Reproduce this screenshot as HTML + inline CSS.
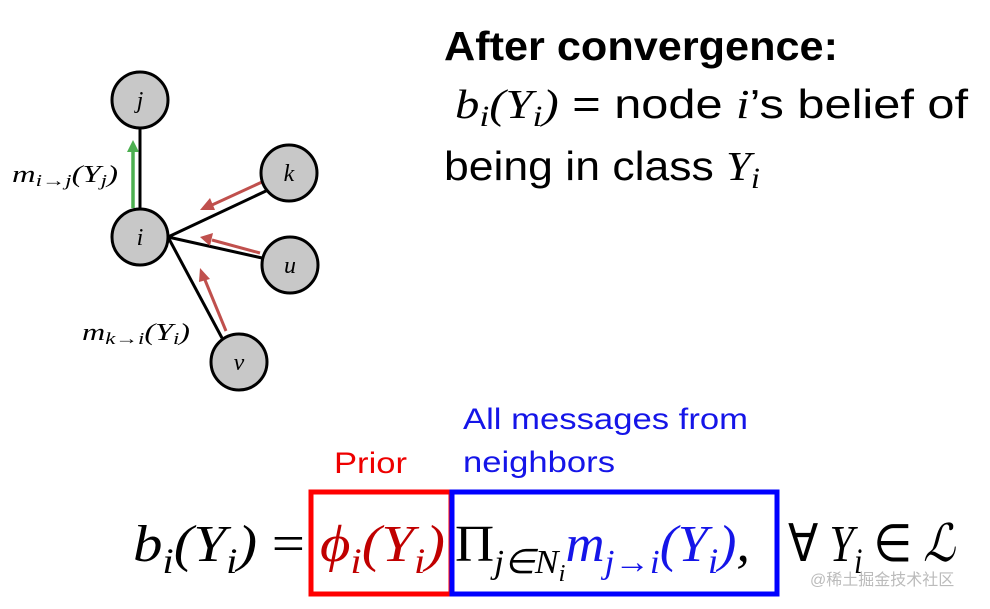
<!DOCTYPE html><html><head><style>body{margin:0;background:#fff}svg{display:block}</style></head><body>
<svg width="990" height="609" xmlns="http://www.w3.org/2000/svg">
<g stroke="#000" stroke-width="3">
<line x1="140" y1="128" x2="140" y2="210"/>
<line x1="168" y1="237" x2="268" y2="190"/>
<line x1="168" y1="237" x2="262" y2="258"/>
<line x1="168" y1="237" x2="222" y2="338"/>
</g>
<g stroke="#4caf50" stroke-width="3.5" fill="#4caf50"><line x1="133" y1="208" x2="133" y2="150"/><polygon points="127,152 139,152 133,140" stroke="none"/></g>
<g stroke="#c0504d" stroke-width="3" fill="#c0504d">
<line x1="262" y1="182" x2="212" y2="205"/><polygon points="200,210 210,198 215,210" stroke="none"/>
<line x1="260" y1="253" x2="212" y2="240"/><polygon points="200,237 213,233 210,246" stroke="none"/>
<line x1="226" y1="331" x2="205" y2="280"/><polygon points="200,268 210,279 199,282" stroke="none"/>
</g>
<g fill="#c8c8c8" stroke="#000" stroke-width="3">
<circle cx="140" cy="100" r="28"/><circle cx="140" cy="237" r="28"/><circle cx="289" cy="173" r="28"/><circle cx="290" cy="265" r="28"/><circle cx="239" cy="362" r="28"/>
</g>
<g font-family="Liberation Serif,serif" font-style="italic" font-size="24" text-anchor="middle">
<text x="140" y="108">j</text><text x="140" y="245">i</text><text x="289" y="181">k</text><text x="290" y="273">u</text><text x="239" y="370">v</text>
</g>
<g font-family="Liberation Serif,serif" font-style="italic" font-size="24">
<text x="12" y="182" textLength="106" lengthAdjust="spacingAndGlyphs">m<tspan font-size="17" dy="4">i→j</tspan><tspan dy="-4">(Y</tspan><tspan font-size="17" dy="4">j</tspan><tspan dy="-4">)</tspan></text>
<text x="82" y="340" textLength="108" lengthAdjust="spacingAndGlyphs">m<tspan font-size="17" dy="4">k→i</tspan><tspan dy="-4">(Y</tspan><tspan font-size="17" dy="4">i</tspan><tspan dy="-4">)</tspan></text>
</g>
<g font-family="Liberation Sans,sans-serif" font-size="41" fill="#000">
<text x="444" y="60" font-weight="bold" textLength="394" lengthAdjust="spacingAndGlyphs">After convergence:</text>
<text x="455" y="118" textLength="513" lengthAdjust="spacingAndGlyphs"><tspan font-family="Liberation Serif,serif" font-style="italic">b<tspan font-size="30" dy="8">i</tspan><tspan dy="-8">(Y</tspan><tspan font-size="30" dy="8">i</tspan><tspan dy="-8">)</tspan></tspan> = node <tspan font-family="Liberation Serif,serif" font-style="italic">i</tspan>’s belief of</text>
<text x="444" y="180" textLength="316" lengthAdjust="spacingAndGlyphs">being in class <tspan font-family="Liberation Serif,serif" font-style="italic">Y<tspan font-size="30" dy="8">i</tspan></tspan></text>
</g>
<g font-family="Liberation Sans,sans-serif" font-size="30">
<text x="334" y="473" fill="#e00" textLength="73" lengthAdjust="spacingAndGlyphs">Prior</text>
<text x="463" y="429" fill="#1515e8" textLength="285" lengthAdjust="spacingAndGlyphs">All messages from</text>
<text x="463" y="472" fill="#1515e8" textLength="152" lengthAdjust="spacingAndGlyphs">neighbors</text>
</g>
<rect x="311" y="492" width="140" height="102" fill="none" stroke="#f00" stroke-width="5"/>
<rect x="452" y="492" width="325" height="102" fill="none" stroke="#00f" stroke-width="5"/>
<g font-family="Liberation Serif,serif" font-style="italic" font-size="52">
<text x="133" y="561" textLength="172" lengthAdjust="spacingAndGlyphs">b<tspan font-size="36" dy="12">i</tspan><tspan dy="-12">(Y</tspan><tspan font-size="36" dy="12">i</tspan><tspan dy="-12">)</tspan><tspan font-style="normal"> =</tspan></text>
<text x="320" y="561" fill="#c00000" textLength="125" lengthAdjust="spacingAndGlyphs">ϕ<tspan font-size="36" dy="12">i</tspan><tspan dy="-12">(Y</tspan><tspan font-size="36" dy="12">i</tspan><tspan dy="-12">)</tspan></text>
<text x="455" y="561" textLength="295" lengthAdjust="spacingAndGlyphs"><tspan font-style="normal">Π</tspan><tspan font-size="34" dy="12">j∈N</tspan><tspan font-size="24" dy="8">i</tspan><tspan fill="#1515e8" dy="-20">m</tspan><tspan fill="#1515e8" font-size="34" dy="12">j→i</tspan><tspan fill="#1515e8" dy="-12">(Y</tspan><tspan fill="#1515e8" font-size="36" dy="12">i</tspan><tspan fill="#1515e8" dy="-12">)</tspan>,</text>
<text x="788" y="561" textLength="167" lengthAdjust="spacingAndGlyphs"><tspan font-style="normal">∀</tspan> Y<tspan font-size="36" dy="12">i</tspan><tspan dy="-12" font-style="normal"> ∈ </tspan>ℒ</text>
</g>
<text x="810" y="585" font-family="Liberation Sans,'Noto Sans CJK SC',sans-serif" font-size="16" fill="#bbb">@稀土掘金技术社区</text>
</svg>
</body></html>
